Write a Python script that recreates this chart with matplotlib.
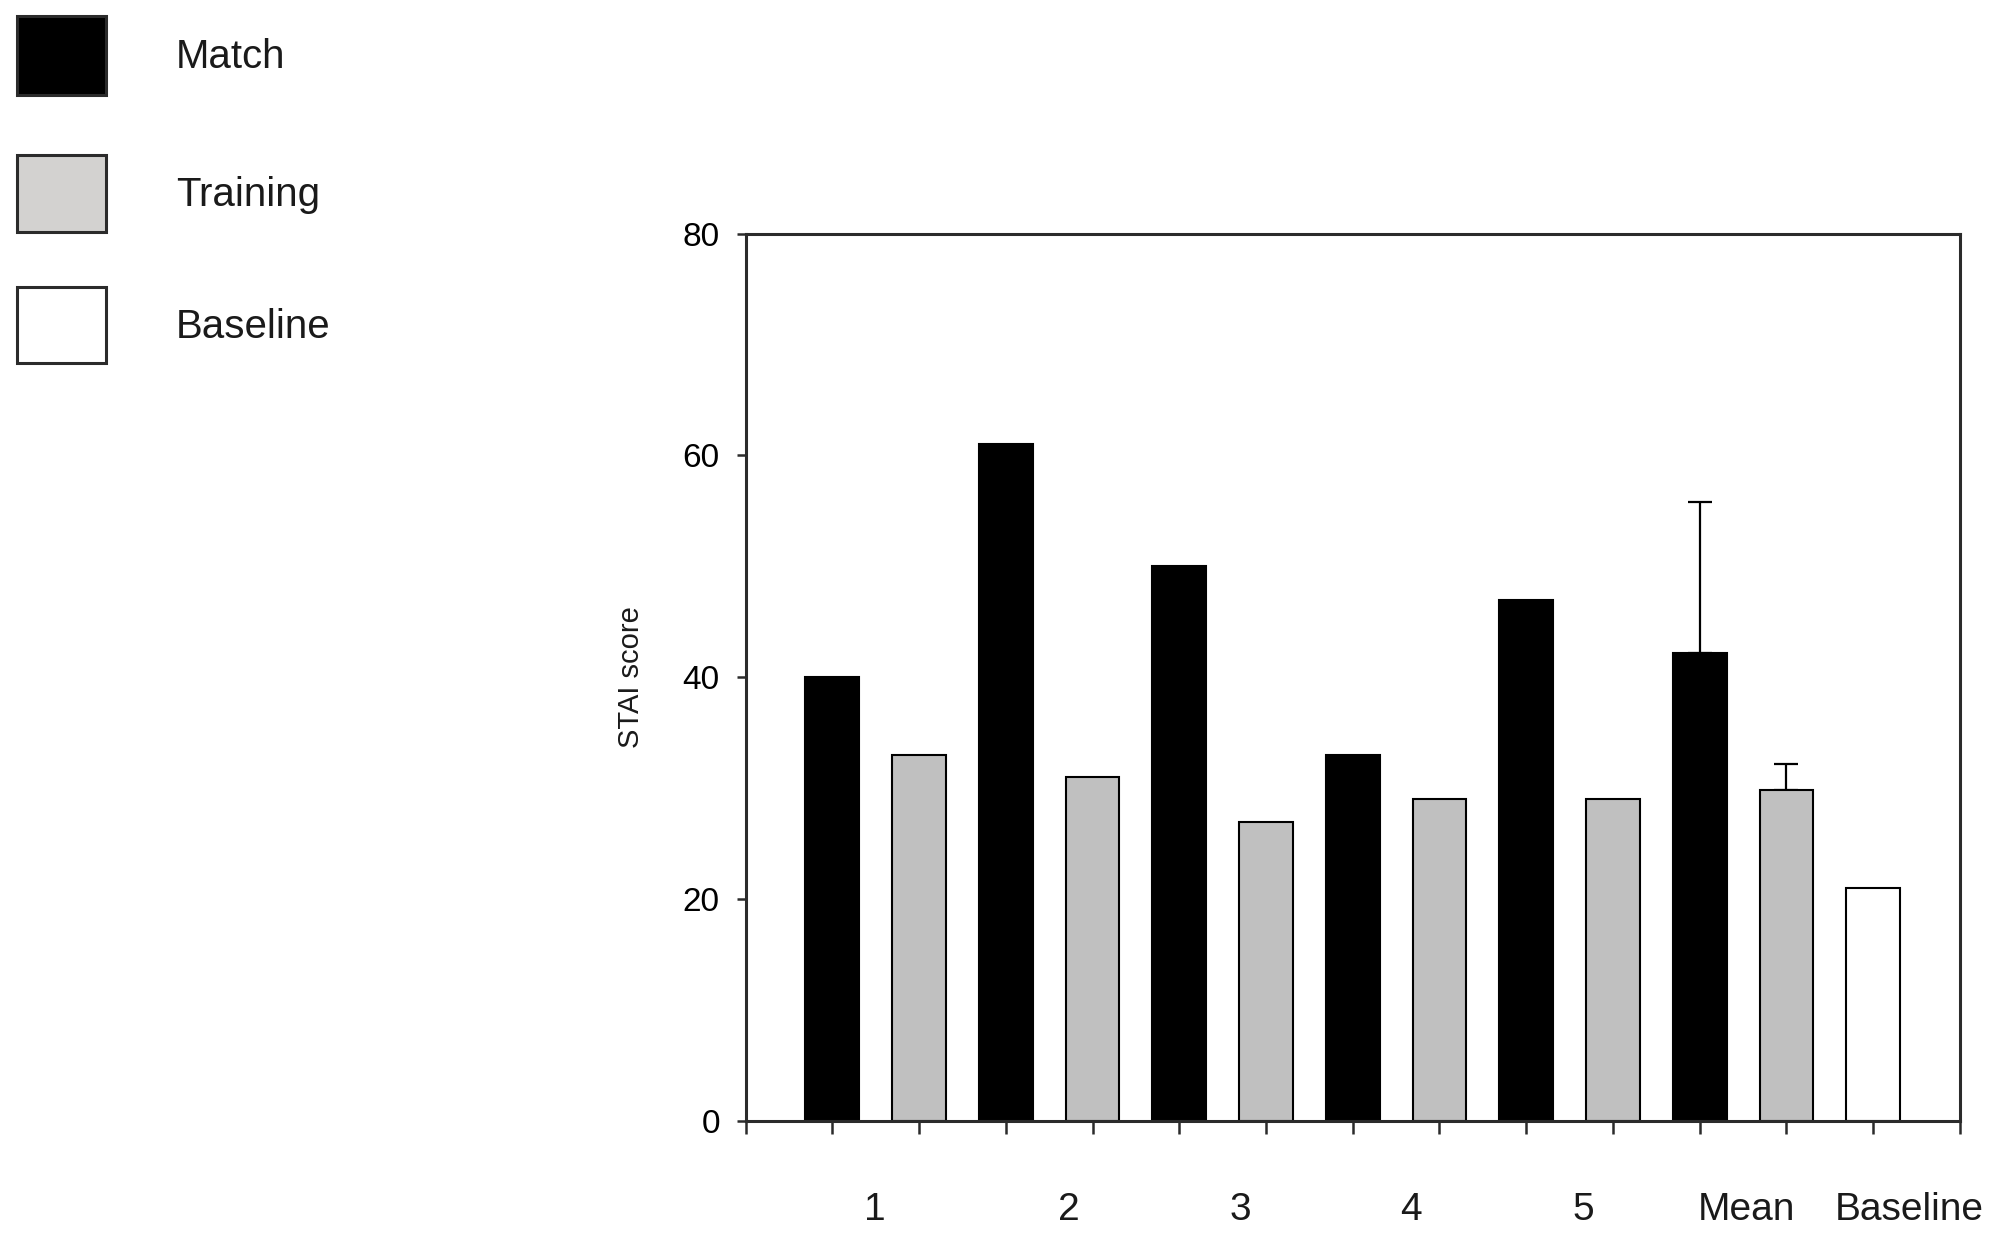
import numpy as np
import matplotlib.pyplot as plt
from matplotlib.patches import Rectangle

plt.rcParams['font.family'] = ['Liberation Sans', 'DejaVu Sans']

# values
session_labels = ["1", "2", "3", "4", "5", "Mean", "Baseline"]
match_scores = [40, 61, 50, 33, 47, 42.2]
training_scores = [33, 31, 27, 29, 29, 29.8]
baseline_score = 21
match_mean_err = 13.6
training_mean_err = 2.4

legend_names = ["Match", "Training", "Baseline"]

MATCH_COLOR = "black"
TRAINING_COLOR = "#c0c0c0"
EDGE = "#2b2b2b"

W, H = 2002, 1239


def px_box(x0, y0, x1, y1):
    """Pixel box (top-left origin) -> figure fraction rect."""
    return x0 / W, 1 - y1 / H, (x1 - x0) / W, (y1 - y0) / H


def draw_legend(fig):
    swatches = [(MATCH_COLOR, 16, 95), ("#d3d2d0", 155, 232), ("white", 287, 363)]
    for name, (color, top, bottom) in zip(legend_names, swatches):
        x, y, w, h = px_box(17, top, 106, bottom)
        fig.add_artist(Rectangle((x, y), w, h, transform=fig.transFigure,
                                 facecolor=color, edgecolor=EDGE, lw=2.2))
        fig.text(176 / W, 1 - ((top + bottom) / 2 + 2) / H, name, fontsize=29,
                 ha="left", va="center", color="#1a1a1a")


def main():
    fig = plt.figure(figsize=(W / 100, H / 100), dpi=100)
    ax = fig.add_axes([0.3724, 0.0952, 0.6066, 0.7163])

    # interleave match / training per session, baseline last
    values, colors = [], []
    for m, t in zip(match_scores, training_scores):
        values += [m, t]
        colors += [MATCH_COLOR, TRAINING_COLOR]
    values.append(baseline_score)
    colors.append("white")
    x = np.arange(len(values))

    ax.bar(x, values, width=0.62, color=colors, edgecolor="black", lw=1.5, zorder=2)

    # error bars only on the mean bars, upper side only
    mean_idx = [len(match_scores) * 2 - 2, len(match_scores) * 2 - 1]
    ax.errorbar(x[mean_idx], np.array(values)[mean_idx],
                yerr=[[0, 0], [match_mean_err, training_mean_err]],
                fmt="none", ecolor="black", elinewidth=1.6, capsize=8.6,
                capthick=1.6, zorder=1)

    ax.set_xlim(-1, len(values))
    ax.set_ylim(0, 80)
    ax.set_yticks([0, 20, 40, 60, 80])
    ax.set_xticks(np.arange(-1, len(values) + 1))
    ax.set_xticklabels([])

    for s in ax.spines.values():
        s.set_linewidth(2.2)
        s.set_color(EDGE)
    ax.tick_params(axis="x", direction="out", length=9.4, width=1.8, color=EDGE)
    ax.tick_params(axis="y", direction="out", length=6.5, width=1.8, color=EDGE,
                   labelsize=24, pad=12)

    # group labels under each pair of bars
    label_pos = [0.49, 2.73, 4.71, 6.67, 8.66, 10.54, 12.41]
    for pos, lab in zip(label_pos, session_labels):
        ax.text(pos, -0.1, lab, transform=ax.get_xaxis_transform(),
                ha="center", va="center", fontsize=28, color="#1a1a1a")

    ax.set_ylabel("STAI score", fontsize=21, color="#1a1a1a")
    ax.yaxis.set_label_coords(-0.083, 0.5)

    draw_legend(fig)
    fig.savefig("out.png", dpi=100)


if __name__ == "__main__":
    main()
